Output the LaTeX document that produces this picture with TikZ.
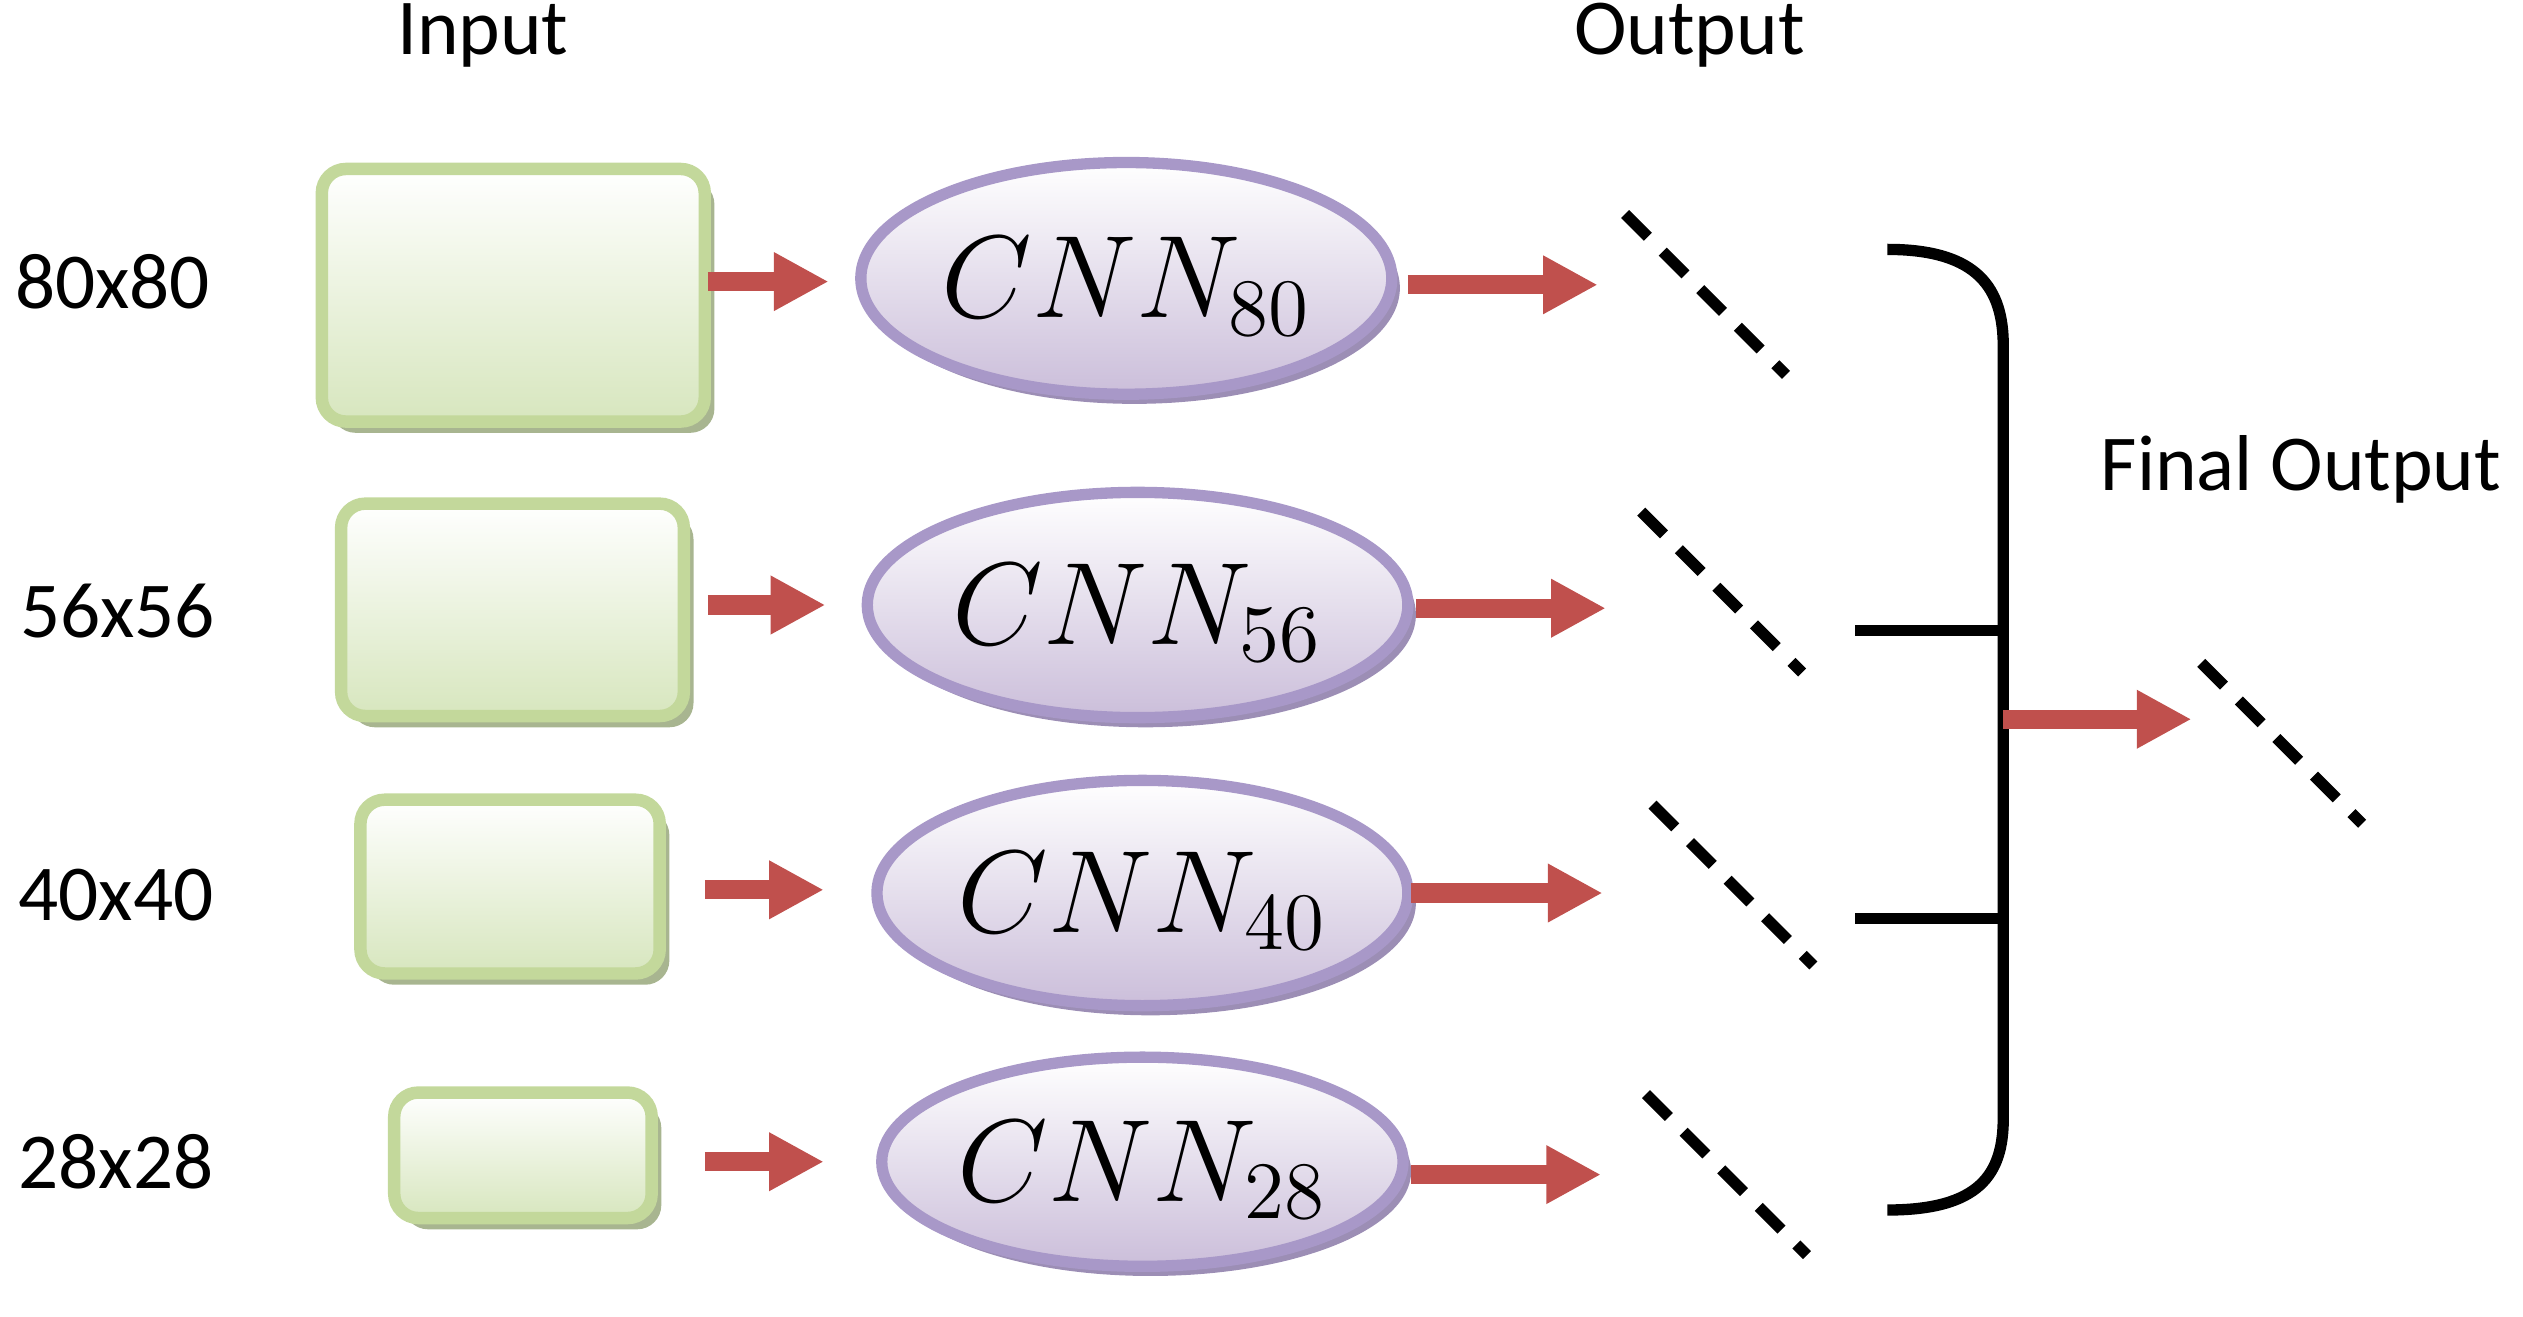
\documentclass[tikz,border=0pt]{standalone}
\usepackage{fontspec}
\setmainfont{Carlito}
\usetikzlibrary{arrows.meta}
\definecolor{gb}{HTML}{C3D89B}
\definecolor{gf}{HTML}{D7E6BE}
\definecolor{gs}{HTML}{A8B590}
\definecolor{pb}{HTML}{A898C8}
\definecolor{pf}{HTML}{CBBEDA}
\definecolor{ps}{HTML}{9C8EB5}
\definecolor{ar}{HTML}{C0504D}
\begin{document}
\begin{tikzpicture}[x=0.01cm,y=-0.01cm,
 lab/.style={font=\fontsize{14}{16}\selectfont},
 inbox/.style={draw=gb,line width=2.2pt,rounded corners=0.15cm,top color=white,bottom color=gf},
 inshadow/.style={fill=gs,rounded corners=0.15cm},
 cnn/.style={draw=pb,line width=2pt,top color=white,bottom color=pf},
 cnnshadow/.style={fill=ps},
 arr/.style={draw=ar,line width=0.12cm,-{Triangle[length=0.34cm,width=0.34cm]}},
 dsh/.style={line width=2pt,dash pattern=on 0.2cm off 0.13cm},
 cn/.style={font=\fontsize{21}{24}\selectfont}]
\useasboundingbox (0,0) rectangle (1568,818);
\node[lab] (tin) at (300,22) {Input};
\node[lab] (tout) at (1050,22) {Output};
\node[lab] (tfin) at (1430,292) {Final Output};
\node[lab] (l1) at (70,175) {80x80};
\node[lab] (l2) at (73,380) {56x56};
\node[lab] (l3) at (72,556) {40x40};
\node[lab] (l4) at (72,722) {28x28};
% inputs
\foreach \a/\b/\c/\d/\n in {200/105/438/262/i1,212/313/425/445/i2,224/497/410/605/i3,245/679/405/757/i4}{
 \fill[inshadow] (\a+6,\b+7) rectangle (\c+6,\d+7);
 \path[inbox] (\a,\b) rectangle (\c,\d);
 \coordinate (\n) at (\c,{(\b+\d)/2});
}
% ellipses
\foreach \x/\y/\rx/\ry/\s/\n in {700/173/165/72/80/e1,707/376/168/70/56/e2,710/555/165/70/40/e3,710/722/162/65/28/e4}{
 \fill[cnnshadow] (\x+5,\y+6) ellipse [x radius=\rx,y radius=\ry];
 \path[cnn] (\x,\y) ellipse [x radius=\rx,y radius=\ry];
 \node[cn] (\n) at (\x,\y+5) {$CNN_{\s}$};
}
\coordinate (a1s) at (440,175); \coordinate (a1e) at (515,175);
\coordinate (a2s) at (440,376); \coordinate (a2e) at (513,376);
\coordinate (a3s) at (438,553); \coordinate (a3e) at (512,553);
\coordinate (a4s) at (438,722); \coordinate (a4e) at (512,722);
\foreach \i in {1,2,3,4}{\draw[arr] (a\i s) -- (a\i e);}
\coordinate (b1s) at (875,177); \coordinate (b1e) at (993,177);
\coordinate (b2s) at (880,378); \coordinate (b2e) at (998,378);
\coordinate (b3s) at (877,555); \coordinate (b3e) at (996,555);
\coordinate (b4s) at (877,730); \coordinate (b4e) at (995,730);
\foreach \i in {1,2,3,4}{\draw[arr] (b\i s) -- (b\i e);}
% dashed outputs
\foreach \x/\y in {1010/133,1020/318,1027/500,1023/680,1368/412}{
 \draw[dsh] (\x,\y) -- (\x+100,\y+100);}
% brace
\draw[line width=2pt] (1173,155) .. controls (1230,155) and (1245,180) .. (1245,215) -- (1245,695) .. controls (1245,730) and (1230,752) .. (1173,752);
\coordinate (h1) at (1153,392); \coordinate (h1e) at (1245,392);
\coordinate (h2) at (1153,571); \coordinate (h2e) at (1245,571);
\draw[line width=2pt] (h1) -- (h1e);
\draw[line width=2pt] (h2) -- (h2e);
\coordinate (fs) at (1245,447); \coordinate (fe) at (1362,447);
\draw[arr] (fs) -- (fe);
\end{tikzpicture}
\end{document}
